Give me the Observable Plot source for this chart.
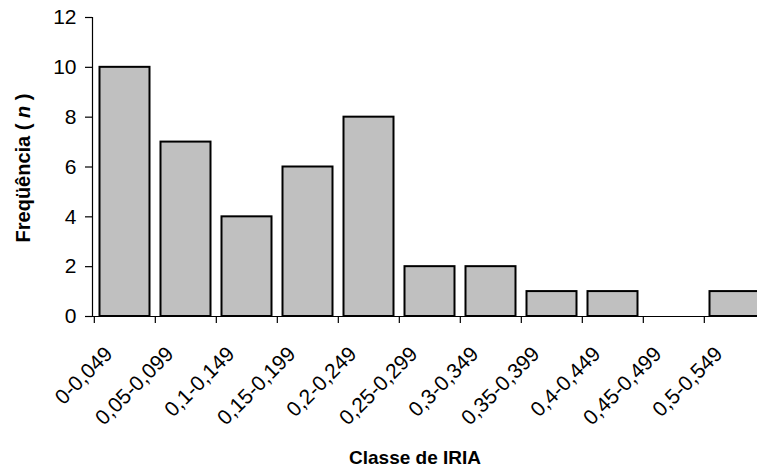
<!DOCTYPE html>
<html><head><meta charset="utf-8">
<script src="https://cdn.jsdelivr.net/npm/d3@7"></script>
<script src="https://cdn.jsdelivr.net/npm/@observablehq/plot@0.6"></script>
<style>
html,body{margin:0;padding:0;background:#fff;overflow:hidden;}
#chart svg{overflow:visible;}
</style>
</head><body><div id="chart"></div>
<script>
const classes = ["0-0,049","0,05-0,099","0,1-0,149","0,15-0,199","0,2-0,249","0,25-0,299","0,3-0,349","0,35-0,399","0,4-0,449","0,45-0,499","0,5-0,549"];
const counts = [10,7,4,6,8,2,2,1,1,0,1];
const yTicks = [0,2,4,6,8,10,12];
const xTitle = "Classe de IRIA";
const yTitleMain = "Freqüência ( ";
const yTitleItalic = "n";
const yTitleEnd = " )";

const data = classes.map((c,i)=>({c, n: counts[i]}));
const W = 757, H = 471;
const x0 = 92, x1 = 767;
const step = (x1 - x0) / classes.length;
const font = "Liberation Sans, Arial, sans-serif";

const plot = Plot.plot({
  width: W, height: H,
  marginTop: 17, marginBottom: 155, marginLeft: x0, marginRight: 0,
  style: {fontFamily: font, fontSize: "21px", color: "#000", background: "#fff"},
  x: {domain: classes, range: [x0, x1], padding: 0, axis: null},
  y: {type: "linear", domain: [0, 12], axis: null},
  marks: [
    Plot.barY(data.filter(d=>d.n>0), {x: "c", y: "n", fill: "#c0c0c0", stroke: "#000", strokeWidth: 2, insetLeft: 5.5, insetRight: 5.5}),
    Plot.axisY({ticks: yTicks, tickSize: 7, tickPadding: 9, fontSize: 21, stroke: "#000", strokeWidth: 1.2, label: null}),
    Plot.ruleY([0], {stroke: "#000", strokeWidth: 1.2}),
    Plot.ruleX(classes, {x: d=>d, dx: -step/2, y1: 0, y2: -7/24.9, stroke: "#000", strokeWidth: 1.2}),
    Plot.text(classes, {x: d=>d, y: 0, text: d=>d, rotate: -45, textAnchor: "end", dx: -16, dy: 34, fontSize: 21, fill: "#000"}),
    Plot.frame({anchor: "left", stroke: "#000", strokeWidth: 1.2})
  ]
});
document.getElementById("chart").appendChild(plot);

const svg = d3.select(plot);
svg.append("text")
  .attr("x", 415).attr("y", 464)
  .attr("text-anchor", "middle")
  .attr("font-family", font).attr("font-weight", "bold").attr("font-size", 19)
  .text(xTitle);
const yt = svg.append("text")
  .attr("transform", "translate(30,168) rotate(-90)")
  .attr("text-anchor", "middle")
  .attr("font-family", font).attr("font-weight", "bold").attr("font-size", 20);
yt.append("tspan").text(yTitleMain);
yt.append("tspan").attr("font-style", "italic").text(yTitleItalic);
yt.append("tspan").text(yTitleEnd);
</script>
</body></html>
